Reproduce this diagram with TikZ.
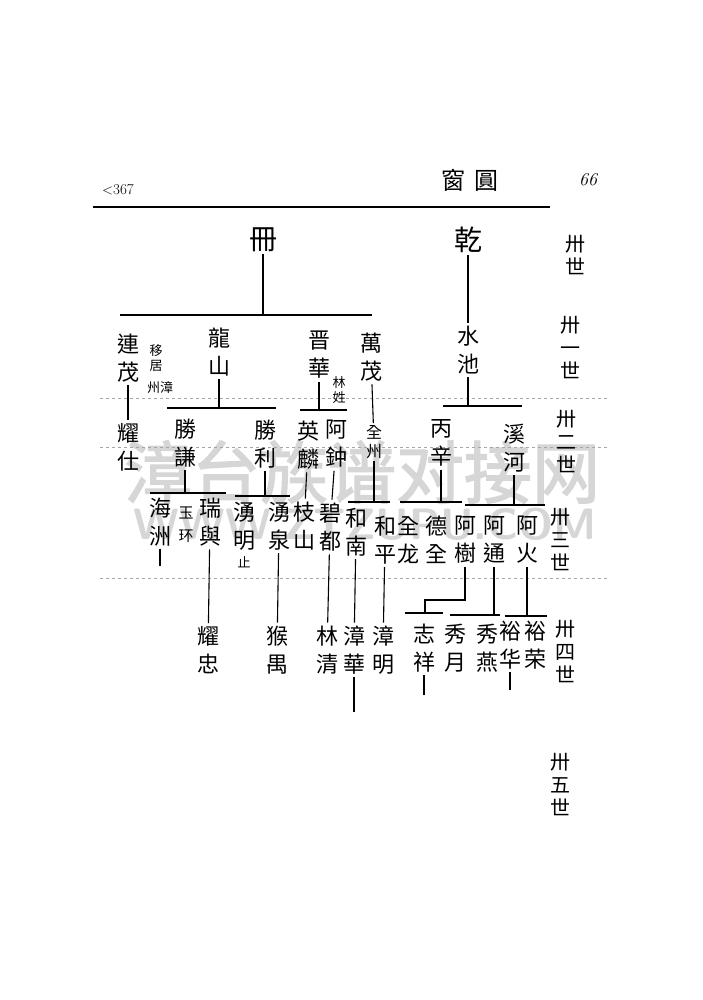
\documentclass[tikz,border=0pt]{standalone}
\usepackage{fontspec}
\newfontfamily\cjk{Noto Sans CJK TC}
\newfontfamily\wmk[FakeBold=2]{Noto Sans CJK SC}
\begin{document}
\begin{tikzpicture}[x=1pt,y=-1pt,
  nm/.style={font=\cjk\fontsize{22}{28}\selectfont,align=center,inner xsep=0pt,inner ysep=3pt},
  bigc/.style={font=\cjk\fontsize{28}{30}\selectfont,inner sep=2pt},
  sm/.style={font=\cjk\fontsize{13}{15}\selectfont,align=center,inner sep=1pt},
  gen/.style={font=\cjk\fontsize{20}{23}\selectfont,align=center,inner sep=1pt},
  ln/.style={line width=1.1pt}]
  \useasboundingbox (0,0) rectangle (703,1000);

  % watermark and ruled lines of the paper
  \node[text=black!16,font=\wmk\fontsize{68}{70}\selectfont] (wm) at (362,472) {漳台族谱对接网};
  \node[text=black!16,font=\sffamily\bfseries\fontsize{44}{46}\selectfont] (url) at (365,524) {WWW.ZTZUPU.COM};
  \foreach \yy in {398,447,578}{
    \draw[black!35,dashed,line width=0.5pt] (100,\yy) -- (610,\yy);
  }

  % header
  \node[font=\fontsize{15}{17}\selectfont] (page) at (118,190) {$<$367};
  \node[font=\cjk\fontsize{24}{26}\selectfont] (title) at (470,180) {窗\hspace{10pt}圓};
  \node[font=\fontsize{18}{20}\selectfont\itshape] (num) at (588,180) {66};
  \coordinate (rl) at (93,207);
  \coordinate (rr) at (550,207);
  \draw[ln] (rl) -- (rr);

  \node[bigc] (ce) at (263,240) {冊};
  \node[bigc] (qian) at (468,240) {乾};

  \foreach \n/\x/\y/\t in {lianmao/128/358/連\\茂, longshan/219/352/龍\\山,
    jinhua/319/355/晋\\華, wanmao/371/357/萬\\茂, shuichi/468/350/水\\池,
    yaoshi/128/447/耀\\仕, shengqian/185/443/勝\\謙, shengli/265/444/勝\\利,
    yinglin/308/445/英\\麟, azhong/336/444/阿\\鈡, bingxin/441/443/丙\\辛,
    xihe/514/448/溪\\河,
    haizhou/160/522/海\\洲, ruiyu/210/522/瑞\\與, yongming/244/526/湧\\明,
    yongquan/279/526/湧\\泉, zhishan/304/526/枝\\山, bidu/330/527/碧\\都,
    henan/356/532/和\\南, heping/385/540/和\\平, quanlong/408/540/全\\龙,
    dequan/436/540/德\\全, ashu/465/540/阿\\樹, atong/494/540/阿\\通,
    ahuo/527/540/阿\\火,
    yaozhong/208/650/耀\\忠, houyu/277/650/猴\\禺, linqing/327/650/林\\清,
    zhanghua/354/650/漳\\華, zhangming/383/650/漳\\明, zhixiang/424/648/志\\祥,
    xiuyue/455/648/秀\\月, xiuyan/487/648/秀\\燕, yuhua/510/645/裕\\华,
    yurong/535/645/裕\\荣}{
    \node[nm] (\n) at (\x,\y) {\t};
  }
  \node[font=\cjk\fontsize{16}{19}\selectfont,align=center,inner sep=2pt] (quanzhou) at (374,442) {全\\州};
  \node[font=\cjk\fontsize{15}{23}\selectfont,align=center,inner sep=1pt] (yuhuan) at (186,525) {玉\\环};
  \node[sm] (yiju) at (156,358) {移\\居};
  \node[sm] (zhzh) at (160,388) {州漳};
  \node[sm] (linxing) at (339,390) {林\\姓};
  \node[sm] (zhi) at (244,562) {止};

  % generations
  \foreach \n/\x/\y/\t in {g30/575/255/卅\\世, g31/570/348/卅\\一\\世,
    g32/566/442/卅\\二\\世, g33/560/540/卅\\三\\世, g34/565/652/卅\\四\\世,
    g35/560/785/卅\\五\\世}{
    \node[gen] (\n) at (\x,\y) {\t};
  }

  \foreach \c/\x/\y in {b0l/120/315, b0r/372/315, b1l/167/408, b1r/276/408,
    b2l/300/410, b2r/347/410, b3l/443/406, b3r/522/406, b4l/150/493, b4r/226/493,
    b5l/235/496, b5r/290/496, b6l/348/502, b6r/390/502, b7l/400/502, b7r/462/502,
    b8l/465/505, b8r/545/505, b9l/405/613, b9r/443/613, b10l/450/615, b10r/500/615,
    b11l/505/616, b11r/547/616,
    s1/465/600, s2/425/600, t1/160/566, t2/354/712, t3/424/695, t4/510/690}{
    \coordinate (\c) at (\x,\y);
  }

  \foreach \p/\l/\r in {ce/b0l/b0r, longshan/b1l/b1r, jinhua/b2l/b2r,
    shuichi/b3l/b3r, shengqian/b4l/b4r, shengli/b5l/b5r, quanzhou/b6l/b6r,
    bingxin/b7l/b7r, xihe/b8l/b8r, atong/b10l/b10r, ahuo/b11l/b11r}{
    \draw[ln] (\p) -- (\p |- \l);
    \draw[ln] (\l) -- (\r);
  }
  \foreach \a/\b in {qian/shuichi, lianmao/yaoshi, wanmao/quanzhou,
    yinglin/zhishan, azhong/bidu, ruiyu/yaozhong, yongquan/houyu,
    bidu/linqing, henan/zhanghua, heping/zhangming,
    haizhou/t1, zhanghua/t2, zhixiang/t3, yuhua/t4}{
    \draw[ln] (\a) -- (\b);
  }
  \draw[ln] (ashu) -- (s1) -- (s2) -- (s2 |- b9l);
  \draw[ln] (b9l) -- (b9r);
\end{tikzpicture}
\end{document}
